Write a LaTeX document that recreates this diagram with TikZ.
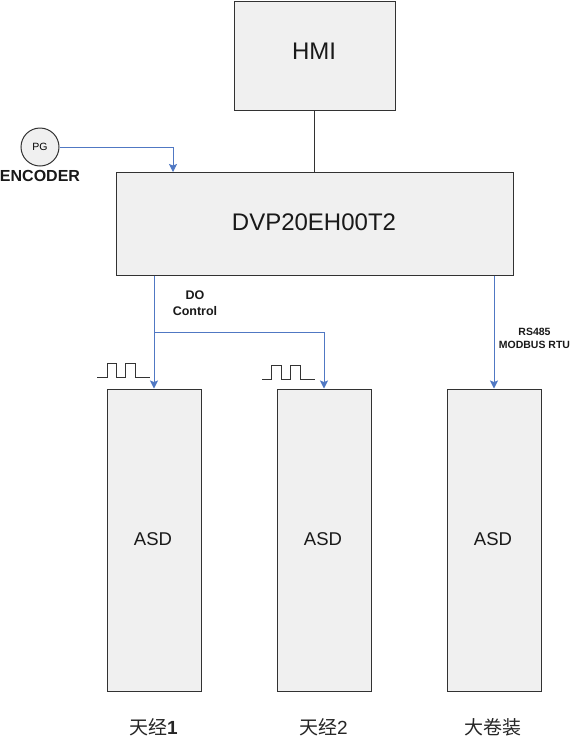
\documentclass[tikz,border=0pt]{standalone}
\usepackage{fontspec}
\setmainfont{Liberation Sans}
\newfontfamily\cjkfont{Noto Sans CJK SC}
\usepackage{xcolor}
\usetikzlibrary{arrows.meta,positioning,calc}
\definecolor{boxfill}{RGB}{240,240,240}
\definecolor{boxline}{RGB}{50,50,50}
\definecolor{wirecol}{RGB}{80,120,195}
\tikzset{
  % grey block
  block/.style={rectangle, draw=boxline, fill=boxfill, line width=1pt, inner sep=0pt, minimum width=#1},
  % servo drive block
  asdbox/.style={block=94pt, minimum height=302pt},
  % signal wire with arrow
  wire/.style={-{Stealth[length=8pt,width=8pt,inset=1.5pt]}, wirecol, line width=1pt},
  % small bold label
  siglabel/.style={font=\bfseries\fontsize{12.5}{16}\selectfont, align=center, text=black!90},
  % large block text
  blocktext/.style={font=\fontsize{24}{26}\selectfont, text=black!90},
  % drive text
  drivetext/.style={font=\fontsize{18.5}{20}\selectfont, text=black!90},
  % pulse train
  pulse/.style={black!80, line width=1pt},
  % label under a drive
  axislabel/.style={font=\fontsize{19}{21}\selectfont, text=black!85},
}
\begin{document}
\begin{tikzpicture}[x=1pt,y=-1pt]
  \useasboundingbox (0,0) rectangle (571,740);
  % main blocks
  \node[block=161pt, minimum height=109pt] (hmi) at (314.5,55.5) {};
  \node[blocktext] (hmitext) at (314,51) {HMI};
  \node[block=397pt, minimum height=103pt] (dvp) at (314.5,223.5) {};
  \node[blocktext] (dvptext) at (314,222) {DVP20EH00T2};
  % encoder
  \node[circle, draw=boxline, fill=boxfill, line width=1pt, minimum size=38pt, inner sep=0pt,
    font=\fontsize{10.5}{12}\selectfont] (pg) at (40,147) {PG};
  \node[font=\bfseries\fontsize{16}{18}\selectfont, text=black!90] (enc) at (40,176) {ENCODER};
  % drives
  \node[asdbox] (asda) at (154,540) {};
  \node[asdbox] (asdb) at (324,540) {};
  \node[asdbox] (asdc) at (494,540) {};
  \node[drivetext] (asdatext) at (153,539) {ASD};
  \node[drivetext] (asdbtext) at (323,539) {ASD};
  \node[drivetext] (asdctext) at (493,539) {ASD};
  % wires
  \coordinate (dvpin) at (173,172);
  \coordinate (split) at (154,332);
  \draw[boxline, line width=1pt] (hmi) -- (dvp);
  \draw[wire] (pg) -| (dvpin);
  \draw[wire] (asda.north |- dvp.south) -- (asda);
  \draw[wire] (split) -| (asdb);
  \draw[wire] (asdc.north |- dvp.south) -- (asdc);
  % labels
  \node[siglabel] (dolabel) at (195,303) {DO\\Control};
  \node[siglabel, font=\bfseries\fontsize{10.5}{13}\selectfont] (rslabel) at (534.5,338) {RS485\\MODBUS RTU};
  \node[axislabel] (labela) at (153.5,727) {\cjkfont 天经\bfseries\rmfamily 1};
  \node[axislabel] (labelb) at (323.5,727) {\cjkfont 天经\rmfamily 2};
  \node[axislabel] (labelc) at (493,727) {\cjkfont 大卷装};
  % pulses
  \draw[pulse] (97,377) -- (107,377) -- (107,363) -- (116,363) -- (116,377) -- (125,377)
    -- (125,363) -- (135,363) -- (135,377) -- (150,377);
  \draw[pulse] (262,379) -- (271,379) -- (271,365) -- (281,365) -- (281,379) -- (290,379)
    -- (290,365) -- (300,365) -- (300,379) -- (315,379);
\end{tikzpicture}
\end{document}
